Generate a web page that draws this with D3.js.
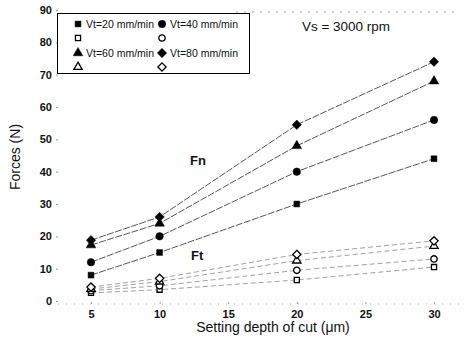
<!DOCTYPE html>
<html>
<head>
<meta charset="utf-8">
<script src="https://cdn.jsdelivr.net/npm/d3@7"></script>
<style>
  body { margin: 0; background: #fff; }
  text { font-family: "Liberation Sans Narrow", "Liberation Sans", Arial, sans-serif; fill: #111; }
</style>
</head>
<body>
<div class="chart"></div>
<script>
// svg size
var svgWidth = 464;
var svgHeight = 344;

// data
var depths = [5, 10, 20, 30];
var fnVt20 = [8, 15, 30, 44];
var fnVt40 = [12, 20, 40, 56];
var fnVt60 = [17.3, 24, 48, 68];
var fnVt80 = [18.8, 26, 54.5, 74];
var ftVt20 = [2.5, 3.5, 6.5, 10.5];
var ftVt40 = [3.2, 4.7, 9.5, 13];
var ftVt60 = [3.7, 6, 12.5, 17];
var ftVt80 = [4.3, 7, 14.4, 18.6];

var xTicks = [5, 10, 15, 20, 25, 30];
var yTicks = [0, 10, 20, 30, 40, 50, 60, 70, 80, 90];
var legendLabels = ["Vt=20 mm/min", "Vt=40 mm/min", "Vt=60 mm/min", "Vt=80 mm/min"];

// square turned 45 degrees, as in the figure
var symbolRhomb = {
  draw: function (context, size) {
    var r = Math.sqrt(size / 2);
    context.moveTo(0, -r);
    context.lineTo(r, 0);
    context.lineTo(0, r);
    context.lineTo(-r, 0);
    context.closePath();
  }
};

var series = [
  { vals: fnVt20, shape: d3.symbolSquare, size: 34, filled: true },
  { vals: fnVt40, shape: d3.symbolCircle, size: 44, filled: true },
  { vals: fnVt60, shape: d3.symbolTriangle, size: 40, filled: true },
  { vals: fnVt80, shape: symbolRhomb, size: 44, filled: true },
  { vals: ftVt20, shape: d3.symbolSquare, size: 26, filled: false },
  { vals: ftVt40, shape: d3.symbolCircle, size: 32, filled: false },
  { vals: ftVt60, shape: d3.symbolTriangle, size: 30, filled: false },
  { vals: ftVt80, shape: symbolRhomb, size: 34, filled: false }
];

var svg = d3.select(".chart")
  .append("svg")
  .attr("width", svgWidth)
  .attr("height", svgHeight);

var xScale = d3.scaleLinear().domain([5, 30]).range([91, 434]);
var yScale = d3.scaleLinear().domain([0, 90]).range([301, 10]);

// dotted frame (top + bottom)
svg.append("line")
  .attr("x1", 236).attr("x2", 460).attr("y1", 12).attr("y2", 12)
  .attr("stroke", "#888").attr("stroke-width", 0.8)
  .attr("stroke-dasharray", "2,6");
svg.append("line")
  .attr("x1", 58).attr("x2", 460).attr("y1", 304).attr("y2", 304)
  .attr("stroke", "#999").attr("stroke-width", 0.8)
  .attr("stroke-dasharray", "1,7");

// y axis
var yAxis = d3.axisLeft(yScale).tickValues(yTicks).tickSize(2).tickPadding(4);
var yG = svg.append("g").attr("transform", "translate(58,0)").call(yAxis);
yG.select(".domain").remove();
yG.selectAll("line").attr("stroke", "#999");
yG.selectAll("text").style("font-size", "11px").style("font-weight", "bold")
  .attr("x", -6);

// x axis
var xAxis = d3.axisBottom(xScale).tickValues(xTicks).tickSize(2).tickPadding(6);
var xG = svg.append("g").attr("transform", "translate(0,302)").call(xAxis);
xG.select(".domain").remove();
xG.selectAll("line").attr("stroke", "#999");
xG.selectAll("text").style("font-size", "11px").style("font-weight", "bold");

// axis titles
svg.append("text")
  .attr("transform", "translate(20,157) rotate(-90)")
  .attr("text-anchor", "middle")
  .style("font-size", "14px")
  .text("Forces (N)");

svg.append("text")
  .attr("x", 273).attr("y", 332)
  .attr("text-anchor", "middle")
  .style("font-size", "14px")
  .text("Setting depth of cut (\u03bcm)");

// lines
var line = d3.line()
  .x(function (d, i) { return xScale(depths[i]); })
  .y(function (d) { return yScale(d); });

series.forEach(function (s) {
  svg.append("path")
    .attr("d", line(s.vals))
    .attr("fill", "none")
    .attr("stroke", s.filled ? "#444" : "#888")
    .attr("stroke-width", s.filled ? 0.9 : 0.8)
    .attr("stroke-dasharray", s.filled ? "7,1.5" : "5,3");
});

// markers
series.forEach(function (s) {
  svg.append("g").selectAll("path")
    .data(s.vals)
    .enter()
    .append("path")
    .attr("d", d3.symbol().type(s.shape).size(s.size))
    .attr("transform", function (d, i) {
      return "translate(" + xScale(depths[i]) + "," + yScale(d) + ")";
    })
    .attr("fill", s.filled ? "#000" : "#fff")
    .attr("stroke", "#000")
    .attr("stroke-width", s.filled ? 0.5 : 1.3);
});

// legend
svg.append("rect")
  .attr("x", 57.5).attr("y", 13.5).attr("width", 192).attr("height", 60)
  .attr("fill", "#fff").attr("stroke", "#000").attr("stroke-width", 1);

var legendRows = [24, 38, 53, 67];
var legendCols = [78, 162];
series.forEach(function (s, k) {
  var v = k % 4;
  var col = v % 2;
  var row = Math.floor(v / 2) * 2 + (s.filled ? 0 : 1);
  var lx = legendCols[col], ly = legendRows[row];
  svg.append("path")
    .attr("d", d3.symbol().type(s.shape).size(s.size))
    .attr("transform", "translate(" + lx + "," + ly + ")")
    .attr("fill", s.filled ? "#000" : "#fff")
    .attr("stroke", "#000")
    .attr("stroke-width", s.filled ? 0.5 : 1.3);
  if (s.filled) {
    svg.append("text")
      .attr("x", lx + 8).attr("y", ly + 4)
      .attr("textLength", 68)
      .attr("lengthAdjust", "spacingAndGlyphs")
      .style("font-size", "11px")
      .text(legendLabels[v]);
  }
});

// annotations
svg.append("text")
  .attr("x", 302).attr("y", 31)
  .attr("textLength", 88)
  .attr("lengthAdjust", "spacingAndGlyphs")
  .style("font-size", "12.5px")
  .text("Vs = 3000 rpm");

svg.append("text")
  .attr("x", 190).attr("y", 165)
  .style("font-size", "13px").style("font-weight", "bold")
  .text("Fn");

svg.append("text")
  .attr("x", 191).attr("y", 260)
  .style("font-size", "13px").style("font-weight", "bold")
  .text("Ft");
</script>
</body>
</html>
